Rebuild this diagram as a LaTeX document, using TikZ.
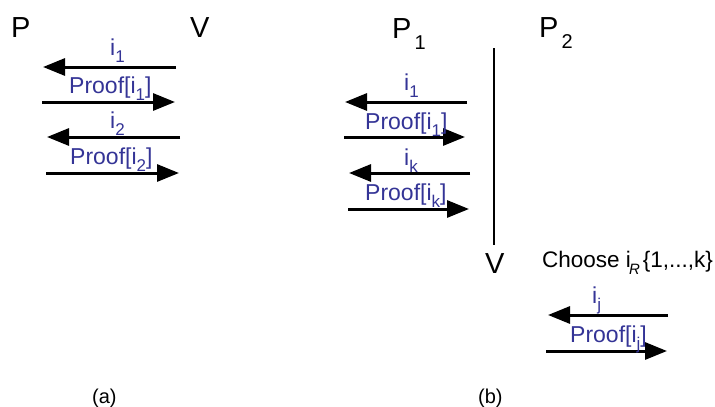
\documentclass[tikz,border=0pt]{standalone}
\usepackage{fontspec}
\setmainfont{Liberation Sans}
\usetikzlibrary{arrows.meta}
\definecolor{lblue}{RGB}{52,52,150}
\newcommand\lsub[1]{\raisebox{-7pt}{\fontsize{17}{17}\selectfont #1}}
\newcommand\bigsub[1]{\raisebox{-11pt}{\fontsize{20}{20}\selectfont #1}}
\begin{document}
\begin{tikzpicture}[x=1pt,y=-1pt,
  msg/.style={line width=3pt,-{Triangle[length=22pt,width=17pt]}},
  party/.style={inner sep=0pt,anchor=base west,font=\fontsize{29}{29}\selectfont},
  lbl/.style={inner sep=0pt,anchor=base west,text=lblue,font=\fontsize{23}{23}\selectfont},
  figcap/.style={inner sep=0pt,anchor=base west,font=\fontsize{20}{20}\selectfont}]
\useasboundingbox (0,0) rectangle (715,407);
% (a)
\node[party] (P) at (11,37) {P};
\node[party] (V) at (190,37) {V};
\coordinate (a1s) at (176,67); \coordinate (a1e) at (43,67);
\coordinate (a2s) at (42,102); \coordinate (a2e) at (175,102);
\coordinate (a3s) at (180,137); \coordinate (a3e) at (47,137);
\coordinate (a4s) at (46,173); \coordinate (a4e) at (179,173);
\draw[msg] (a1s) -- (a1e);
\draw[msg] (a2s) -- (a2e);
\draw[msg] (a3s) -- (a3e);
\draw[msg] (a4s) -- (a4e);
\node[lbl] (la1) at (110,55) {i\lsub{1}};
\node[lbl] (la2) at (69,93) {Proof[i\lsub{1}]};
\node[lbl] (la3) at (110,128) {i\lsub{2}};
\node[lbl] (la4) at (70,164) {Proof[i\lsub{2}]};
\node[figcap] (capa) at (92,403) {(a)};
% (b)
\node[party] (P1) at (392,38) {P\kern3pt\bigsub{1}};
\node[party] (P2) at (539,37) {P\kern3pt\bigsub{2}};
\coordinate (vt) at (494,48); \coordinate (vb) at (494,245);
\draw[line width=2.2pt] (vt) -- (vb);
\node[party] (V2) at (485,273) {V};
\coordinate (b1s) at (467,102); \coordinate (b1e) at (345,102);
\coordinate (b2s) at (344,137); \coordinate (b2e) at (465,137);
\coordinate (b3s) at (470,173); \coordinate (b3e) at (349,173);
\coordinate (b4s) at (348,209); \coordinate (b4e) at (469,209);
\draw[msg] (b1s) -- (b1e);
\draw[msg] (b2s) -- (b2e);
\draw[msg] (b3s) -- (b3e);
\draw[msg] (b4s) -- (b4e);
\node[lbl] (lb1) at (404,90) {i\lsub{1}};
\node[lbl] (lb2) at (365,129) {Proof[i\lsub{1}]};
\node[lbl] (lb3) at (404,165) {i\lsub{k}};
\node[lbl] (lb4) at (365,200) {Proof[i\lsub{k}]};
\node[inner sep=0pt,anchor=base west,font=\fontsize{22.5}{22.5}\selectfont] (choose) at (542,267)
  {Choose i\kern-2pt\raisebox{-7pt}{\fontsize{15}{15}\selectfont\itshape R}\kern3pt\{1,...,k\}};
\coordinate (c1s) at (668,315); \coordinate (c1e) at (548,315);
\coordinate (c2s) at (546,351); \coordinate (c2e) at (667,351);
\draw[msg] (c1s) -- (c1e);
\draw[msg] (c2s) -- (c2e);
\node[lbl] (lc1) at (592,303) {i\lsub{j}};
\node[lbl] (lc2) at (570,342) {Proof[i\lsub{j}]};
\node[figcap] (capb) at (478,403) {(b)};
\end{tikzpicture}
\end{document}
